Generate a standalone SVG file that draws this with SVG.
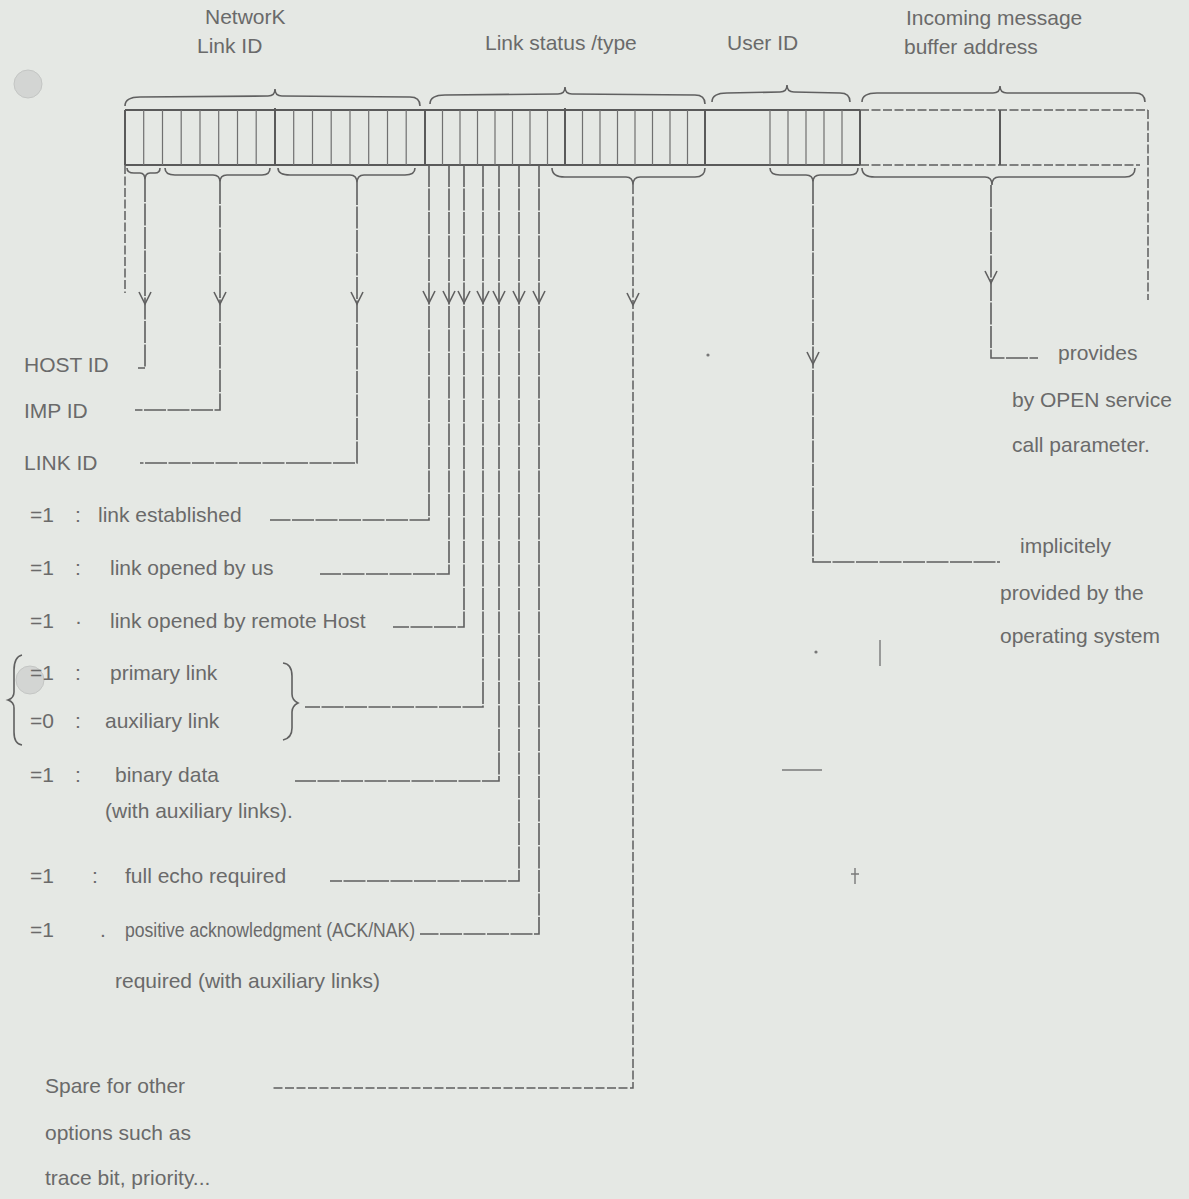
<svg xmlns="http://www.w3.org/2000/svg" width="1189" height="1199" viewBox="0 0 1189 1199">
<defs>
<style>
.ln{stroke:#5e5e5e;stroke-width:1.6;fill:none;stroke-dasharray:22 1.5}
.sd{stroke:#5e5e5e;stroke-width:1.5;fill:none;stroke-dasharray:9 2.5}
.reg{stroke:#5a5a5a;stroke-width:2;fill:none}
.cell{stroke:#707070;stroke-width:1.2}
.br{stroke:#606060;stroke-width:1.6;fill:none}
.t{font-family:"Liberation Sans",Arial,sans-serif;font-size:21px;fill:#6a6a6a}
.hole{fill:#d3d5d3;stroke:#c4c6c4;stroke-width:1}
.mk{stroke:#7a7a7a;stroke-width:1.4;fill:none}
</style>
<path id="v" d="M-6,-12 L0,0 L6,-12" class="br"/>
</defs>
<rect width="1189" height="1199" fill="#e5e8e4"/>
<circle class="hole" cx="28" cy="84" r="14"/>
<circle class="hole" cx="30" cy="680" r="14"/>

<g id="labels-top">
<text class="t" x="205" y="24">NetworK</text>
<text class="t" x="197" y="53">Link ID</text>
<text class="t" x="485" y="50">Link status /type</text>
<text class="t" x="727" y="50">User ID</text>
<text class="t" x="906" y="25">Incoming message</text>
<text class="t" x="904" y="54">buffer address</text>
</g>

<g id="braces-top">
<path class="br" d="M125,106 Q125,97 140,97 L268,96 Q275,96 275,89 Q275,96 282,96 L410,97 Q420,97 420,106"/>
<path class="br" d="M430,104 Q430,95 445,95 L558,94 Q565,94 565,87 Q565,94 572,94 L695,95 Q705,95 705,104"/>
<path class="br" d="M712,102 Q712,93 727,93 L780,92 Q787,92 787,85 Q787,92 794,92 L840,93 Q850,93 850,102"/>
<path class="br" d="M862,102 Q862,93 877,93 L993,93 Q1000,93 1000,86 Q1000,93 1007,93 L1135,93 Q1145,93 1145,102"/>
</g>

<g id="register">
<path class="reg" d="M125,110 H860 M125,165 H860 M125,110 V165"/>
<path class="sd" d="M860,110 H1148 M860,165 H1140"/>
<path class="reg" d="M275,108 V165 M425,110 V165 M565,108 V165 M705,110 V165 M860,110 V165 M1000,110 V165"/>
<path class="cell" d="M143.7,110V165M162.5,110V165M181.2,110V165M200,110V165M218.7,110V165M237.5,110V165M256.2,110V165
M293.7,110V165M312.5,110V165M331.2,110V165M350,110V165M368.7,110V165M387.5,110V165M406.2,110V165
M442.5,110V165M460,110V165M477.5,110V165M495,110V165M512.5,110V165M530,110V165M547.5,110V165
M582.5,110V165M600,110V165M617.5,110V165M635,110V165M652.5,110V165M670,110V165M687.5,110V165
M770,110V165M788,110V165M806,110V165M824,110V165M842,110V165"/>
</g>

<g id="braces-bottom">
<path class="br" d="M127,168 Q127,173 134,173 L140,173 Q145,173 145,180 Q145,173 150,173 L155,173 Q160,173 160,168"/>
<path class="br" d="M165,168 Q165,175 175,175 L213,175 Q220,175 220,182 Q220,175 227,175 L262,175 Q270,175 270,168"/>
<path class="br" d="M278,168 Q278,175 290,175 L350,175 Q357,175 357,183 Q357,175 364,175 L405,175 Q415,175 415,168"/>
<path class="br" d="M552,168 Q552,177 565,177 L626,177 Q633,177 633,185 Q633,177 640,177 L695,177 Q705,177 705,168"/>
<path class="br" d="M770,168 Q770,175 780,175 L806,175 Q813,175 813,182 Q813,175 820,175 L850,175 Q858,175 858,168"/>
<path class="br" d="M862,168 Q862,177 875,177 L985,177 Q992,177 992,185 Q992,177 999,177 L1125,177 Q1135,177 1135,168"/>
</g>

<g id="connectors">
<path class="sd" d="M125,165 V293"/>
<path class="ln" d="M145,180 V368 H138"/>
<path class="ln" d="M220,182 V410 H135"/>
<path class="ln" d="M357,183 V463 H140"/>
<path class="ln" d="M429,165 V520 H270"/>
<path class="ln" d="M449,165 V574 H320"/>
<path class="ln" d="M464,165 V627 H393"/>
<path class="ln" d="M483,165 V707 H305"/>
<path class="ln" d="M499,165 V781 H295"/>
<path class="ln" d="M519,165 V881 H330"/>
<path class="ln" d="M539,165 V934 H420"/>
<path class="sd" d="M633,185 V1088 H272"/>
<path class="ln" d="M813,182 V562 H1000"/>
<path class="ln" d="M991,185 V358 H1038"/>
<path class="sd" d="M1148,110 V300"/>
<use href="#v" x="145" y="304"/>
<use href="#v" x="220" y="304"/>
<use href="#v" x="357" y="304"/>
<use href="#v" x="429" y="303"/>
<use href="#v" x="449" y="303"/>
<use href="#v" x="464" y="303"/>
<use href="#v" x="483" y="303"/>
<use href="#v" x="499" y="303"/>
<use href="#v" x="519" y="303"/>
<use href="#v" x="539" y="303"/>
<use href="#v" x="633" y="305"/>
<use href="#v" x="991" y="283"/>
<use href="#v" x="813" y="364"/>
</g>

<g id="labels-left">
<text class="t" x="24" y="372">HOST ID</text>
<text class="t" x="24" y="418">IMP ID</text>
<text class="t" x="24" y="470">LINK ID</text>
<text class="t" y="522"><tspan x="30">=1</tspan><tspan x="75">:</tspan><tspan x="98">link established</tspan></text>
<text class="t" y="575"><tspan x="30">=1</tspan><tspan x="75">:</tspan><tspan x="110">link opened by us</tspan></text>
<text class="t" y="628"><tspan x="30">=1</tspan><tspan x="75">·</tspan><tspan x="110">link opened by remote Host</tspan></text>
<text class="t" y="680"><tspan x="30">=1</tspan><tspan x="75">:</tspan><tspan x="110">primary link</tspan></text>
<text class="t" y="728"><tspan x="30">=0</tspan><tspan x="75">:</tspan><tspan x="105">auxiliary link</tspan></text>
<path class="br" d="M22,655 Q14,657 14,670 L14,692 Q14,698 8,700 Q14,702 14,708 L14,732 Q14,744 22,745"/>
<path class="br" d="M283,663 Q292,664 292,676 L292,694 Q292,700 298,703 Q292,706 292,712 L292,728 Q292,738 283,740"/>
<text class="t" y="782"><tspan x="30">=1</tspan><tspan x="75">:</tspan><tspan x="115">binary data</tspan></text>
<text class="t" x="105" y="818">(with auxiliary links).</text>
<text class="t" y="883"><tspan x="30">=1</tspan><tspan x="92">:</tspan><tspan x="125">full echo required</tspan></text>
<text class="t" y="937"><tspan x="30">=1</tspan><tspan x="100">.</tspan><tspan x="125" textLength="290" lengthAdjust="spacingAndGlyphs">positive acknowledgment (ACK/NAK)</tspan></text>
<text class="t" x="115" y="988">required (with auxiliary links)</text>
<text class="t" x="45" y="1093">Spare for other</text>
<text class="t" x="45" y="1140">options such as</text>
<text class="t" x="45" y="1185">trace bit, priority...</text>
</g>

<g id="labels-right">
<text class="t" x="1058" y="360">provides</text>
<text class="t" x="1012" y="407">by OPEN service</text>
<text class="t" x="1012" y="452">call parameter.</text>
<text class="t" x="1020" y="553">implicitely</text>
<text class="t" x="1000" y="600">provided by the</text>
<text class="t" x="1000" y="643">operating system</text>
</g>

<g id="marks">
<circle cx="708" cy="355" r="1.6" fill="#777"/>
<circle cx="816" cy="652" r="1.6" fill="#777"/>
<path class="mk" d="M880,640 V666 M782,770 H822 M855,868 V884 M851,874 H859"/>
</g>
</svg>
